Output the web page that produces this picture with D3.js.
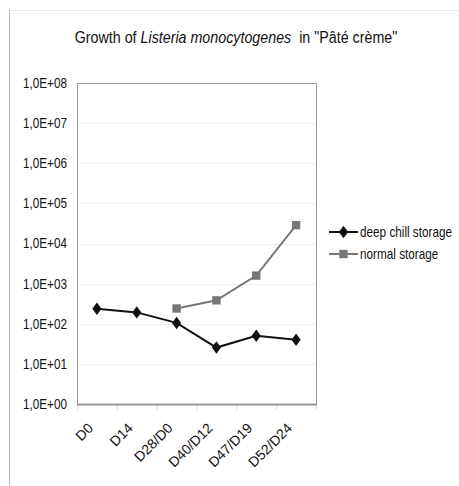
<!DOCTYPE html>
<html>
<head>
<meta charset="utf-8">
<script src="https://cdn.jsdelivr.net/npm/d3@7"></script>
<style>
  body { margin: 0; background: #fff; }
  text { font-family: "Liberation Sans", Arial, sans-serif; fill: #111; }
</style>
</head>
<body>
<svg id="chart" width="459" height="486"></svg>
<script>
var days = ["D0", "D14", "D28/D0", "D40/D12", "D47/D19", "D52/D24"];
var deepChill = [237, 192, 105, 25.5, 50, 40];
var normal = [null, null, 240, 383, 1585, 28700];
var yTicks = [1e0, 1e1, 1e2, 1e3, 1e4, 1e5, 1e6, 1e7, 1e8];
var seriesNames = ["deep chill storage", "normal storage"];

const deepColor = "#111",
    normalColor = "#777",
    narrow = "scale(0.84,1)"; // the source font is a narrow grotesque

function drawChart() {
    var svg = d3.select("#chart"),
    margin = {
        top: 83,
        left: 77,
        right: 143,
        bottom: 82
    },
    width = 459 - margin.left - margin.right,
    height = 486 - margin.top - margin.bottom;

    // outer frame
    svg.append("line")
        .attr("x1", 9).attr("x2", 459).attr("y1", 10.5).attr("y2", 10.5)
        .attr("stroke", "#e8e8e8");
    svg.append("line")
        .attr("x1", 9.5).attr("x2", 9.5).attr("y1", 10).attr("y2", 486)
        .attr("stroke", "#bbb");

    svg.append("text")
        .attr("transform", "translate(236,43)" + narrow)
        .attr("text-anchor", "middle")
        .style("font-size", "17px")
        .call(function(t) {
            t.append("tspan").text("Growth of ");
            t.append("tspan").style("font-style", "italic").text("Listeria monocytogenes");
            t.append("tspan").text("\u00a0 in \"Pâté crème\"");
        });

    var xScale = d3.scaleBand().domain(days).range([0, width]),
        yScale = d3.scaleLog().domain([1, 1e8]).range([height, 0]);

    var g = svg.append("g")
        .attr("transform", "translate(" + margin.left + "," + margin.top + ")");

    // grid
    g.selectAll(".grid")
        .data(yTicks.slice(1, -1))
        .enter().append("line")
        .attr("x1", 0).attr("x2", width)
        .attr("y1", function(d) { return Math.round(yScale(d)) + 0.5; })
        .attr("y2", function(d) { return Math.round(yScale(d)) + 0.5; })
        .attr("stroke", "#eee");

    g.append("g")
        .call(d3.axisLeft(yScale).tickValues(yTicks).tickSize(0).tickPadding(0)
        .tickFormat(function(d) {
            var e = Math.round(Math.log10(d));
            return "1,0E+" + (e < 10 ? "0" : "") + e;
        }))
        .call(function(a) { a.select(".domain").remove(); })
        .selectAll("text")
        .attr("x", null)
        .attr("transform", "translate(-10,0)" + narrow)
        .style("font-size", "14px")
        .attr("fill", "#111");

    var xAxis = g.append("g")
        .attr("transform", "translate(0," + height + ")");
    xAxis.selectAll(".xtick")
        .data(days.concat(["end"]))
        .enter().append("line")
        .attr("x1", function(d, i) { return i * xScale.bandwidth() + 0.5; })
        .attr("x2", function(d, i) { return i * xScale.bandwidth() + 0.5; })
        .attr("y1", 0).attr("y2", 6)
        .attr("stroke", "#ddd");
    xAxis.selectAll(".xlabel")
        .data(days)
        .enter().append("text")
        .attr("text-anchor", "end")
        .style("font-size", "14px")
        .attr("transform", function(d) {
            return "translate(" + (xScale(d) + xScale.bandwidth() / 2 - 3) + ",25) rotate(-45)";
        })
        .text(function(d) { return d; });

    g.append("rect")
        .attr("x", 0.5).attr("y", 0.5)
        .attr("width", width).attr("height", height)
        .attr("fill", "none")
        .attr("stroke", "#999");
    g.append("line")
        .attr("x1", 0).attr("x2", width + 1)
        .attr("y1", height + 0.5).attr("y2", height + 0.5)
        .attr("stroke", "#999").attr("stroke-width", 2);

    var line = d3.line()
        .defined(function(d) { return d != null; })
        .x(function(d, i) { return xScale(days[i]) + xScale.bandwidth() / 2; })
        .y(function(d) { return yScale(d); });

    g.append("path")
        .datum(normal)
        .attr("d", line)
        .attr("fill", "none")
        .attr("stroke", normalColor)
        .attr("stroke-width", 2);
    g.append("path")
        .datum(deepChill)
        .attr("d", line)
        .attr("fill", "none")
        .attr("stroke", deepColor)
        .attr("stroke-width", 2);

    var diamond = d3.symbol().type(d3.symbolDiamond2).size(75),
        square = d3.symbol().type(d3.symbolSquare).size(70);

    g.selectAll(".sq")
        .data(normal.map(function(v, i) { return {v: v, i: i}; }).filter(function(d) { return d.v != null; }))
        .enter().append("path")
        .attr("d", square)
        .attr("fill", normalColor)
        .attr("transform", function(d) {
            return "translate(" + (xScale(days[d.i]) + xScale.bandwidth() / 2) + "," + yScale(d.v) + ")";
        });
    g.selectAll(".dm")
        .data(deepChill)
        .enter().append("path")
        .attr("d", diamond)
        .attr("fill", deepColor)
        .attr("transform", function(d, i) {
            return "translate(" + (xScale(days[i]) + xScale.bandwidth() / 2) + "," + yScale(d) + ")scale(0.85,1.15)";
        });

    // legend
    var legend = svg.append("g").attr("transform", "translate(329,232)");
    var items = legend.selectAll("g")
        .data(seriesNames)
        .enter().append("g")
        .attr("transform", function(d, i) { return "translate(0," + i * 22 + ")"; });
    items.append("line")
        .attr("x1", 0).attr("x2", 29)
        .attr("stroke", function(d, i) { return i ? normalColor : deepColor; })
        .attr("stroke-width", 2);
    items.append("path")
        .attr("d", function(d, i) { return i ? square() : diamond(); })
        .attr("fill", function(d, i) { return i ? normalColor : deepColor; })
        .attr("transform", function(d, i) { return "translate(14.5,0)" + (i ? "" : "scale(0.85,1.15)"); });
    items.append("text")
        .attr("transform", "translate(31,0)" + narrow)
        .attr("dy", "0.35em")
        .style("font-size", "14px")
        .text(function(d) { return d; });
}

drawChart();
</script>
</body>
</html>
